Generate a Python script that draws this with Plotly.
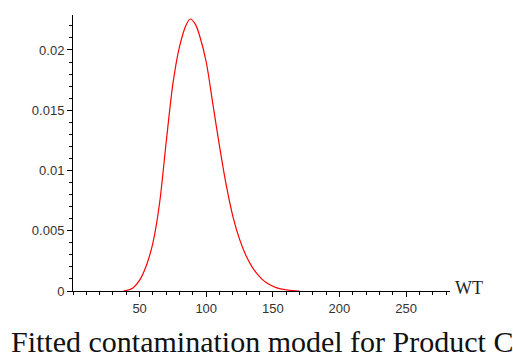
import plotly.graph_objects as go

wt = [38, 42, 45, 50, 55, 60, 65, 70, 75, 80, 85, 88, 92, 95, 100, 105, 110, 115,
      120, 125, 130, 135, 140, 145, 150, 155, 160, 165, 170]
density = [0, 0.0001, 0.00025, 0.0009, 0.0021, 0.0040, 0.0073, 0.0124, 0.0172, 0.0203,
           0.0221, 0.02257, 0.0221, 0.0212, 0.0190, 0.0155, 0.0120, 0.0088, 0.0062,
           0.0043, 0.0029, 0.0019, 0.0012, 0.0007, 0.0004, 0.0002, 0.0001, 0.00003, 0]

x_ticks = [50, 100, 150, 200, 250]
y_ticks = [0, 0.005, 0.01, 0.015, 0.02]
y_tick_text = ["0", "0.005", "0.01", "0.015", "0.02"]

fig = go.Figure()
fig.add_trace(go.Scatter(x=wt, y=density, mode="lines",
                         line=dict(color="#ff0000", width=1.2, shape="spline", smoothing=0.8),
                         hoverinfo="skip", showlegend=False))

tickfont = dict(family="Liberation Sans, Arial, sans-serif", size=13, color="#333333")
fig.update_layout(
    width=513, height=360,
    margin=dict(l=73, r=63, t=15, b=69),
    paper_bgcolor="white", plot_bgcolor="white",
    xaxis=dict(range=[0, 283], tickvals=x_ticks, showgrid=False, zeroline=False,
               showline=True, linecolor="black", linewidth=1,
               ticks="outside", ticklen=5, tickcolor="black", tickfont=tickfont,
               minor=dict(dtick=10, tick0=0, ticks="outside", ticklen=3, tickcolor="black")),
    yaxis=dict(range=[0, 0.0229], tickvals=y_ticks, ticktext=y_tick_text, showgrid=False,
               zeroline=False, showline=True, linecolor="black", linewidth=1,
               ticks="outside", ticklen=5, tickcolor="black", tickfont=tickfont,
               minor=dict(dtick=0.001, tick0=0, ticks="outside", ticklen=3, tickcolor="black")),
    annotations=[
        dict(text="WT", xref="paper", yref="paper", x=1.0, y=0, xanchor="left", yanchor="middle",
             xshift=3, yshift=3, showarrow=False,
             font=dict(family="Liberation Serif, Times New Roman, serif", size=18, color="#222222")),
        dict(text="Fitted contamination model for Product C", xref="paper", yref="paper",
             x=0, y=0, xanchor="left", yanchor="middle", xshift=-64, yshift=-50, showarrow=False,
             font=dict(family="Liberation Serif, Times New Roman, serif", size=30, color="#111111")),
    ],
)

fig.write_html("out.html")
